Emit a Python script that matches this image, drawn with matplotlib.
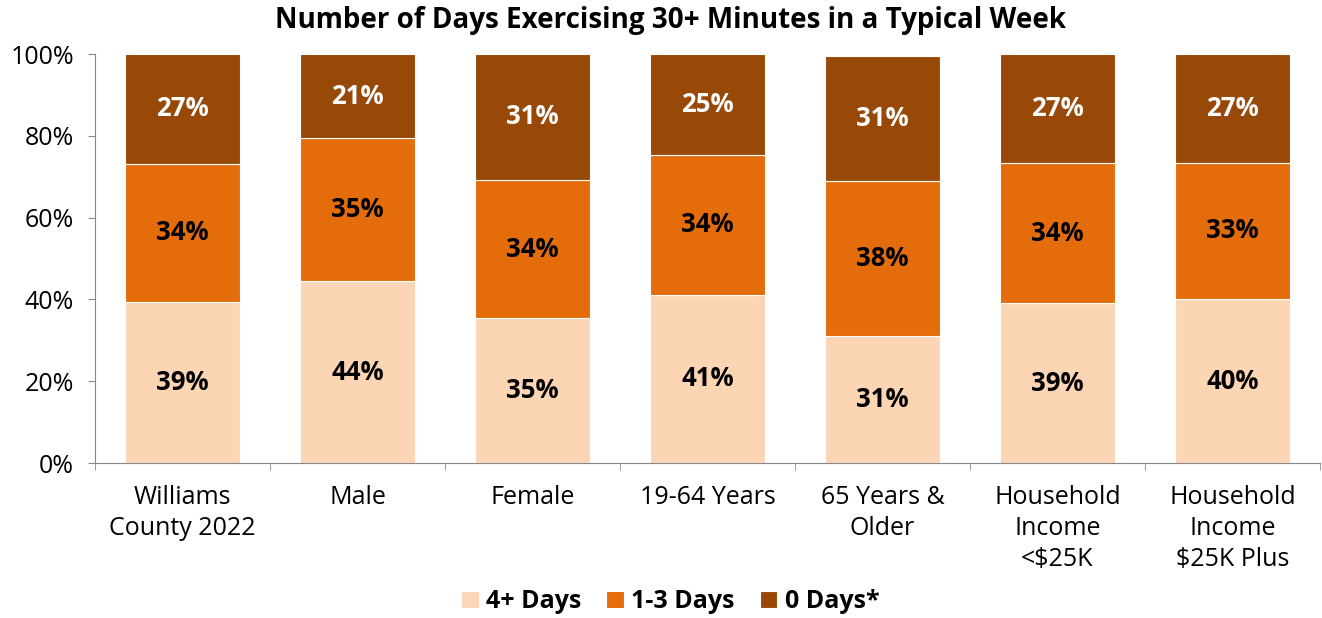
import matplotlib.pyplot as plt
import numpy as np

plt.rcParams['font.family'] = ['Open Sans', 'DejaVu Sans']

groups = ["Williams\nCounty 2022", "Male", "Female", "19-64 Years",
          "65 Years &\nOlder", "Household\nIncome\n<$25K", "Household\nIncome\n$25K Plus"]
days_4plus = [39.4, 44.4, 35.4, 41.2, 31.0, 39.1, 40.1]
days_1to3 = [33.8, 35.0, 33.8, 34.2, 37.9, 34.2, 33.3]
days_0 = [26.8, 20.6, 30.8, 24.6, 30.6, 26.7, 26.6]

series = [("4+ Days", days_4plus, "#FCD5B5", "black"),
          ("1-3 Days", days_1to3, "#E46C0A", "black"),
          ("0 Days*", days_0, "#984807", "white")]

fig = plt.figure(figsize=(13.22, 6.18), dpi=100)
ax = fig.add_axes([0.0719, 0.2508, 0.9265, 0.6618])

x = np.arange(len(groups))
bottom = np.zeros(len(groups))
for name, vals, color, txt in series:
    vals = np.array(vals)
    ax.bar(x, vals, 0.66, bottom=bottom, color=color, edgecolor="white",
           linewidth=0.8, label=name)
    for xi, b, v in zip(x, bottom, vals):
        ax.text(xi, b + v / 2, f"{v:.0f}%", ha="center", va="center",
                fontsize=18.5, fontweight="bold", color=txt)
    bottom += vals

ax.set_xlim(-0.5, len(groups) - 0.5)
ax.set_ylim(0, 100)
ax.set_yticks(range(0, 101, 20))
ax.set_yticklabels([f"{v}%" for v in range(0, 101, 20)], fontsize=18)
ax.set_xticks(x)
ax.set_xticklabels(groups, fontsize=18, linespacing=1.32)
ax.set_xticks(np.arange(-0.5, len(groups)), minor=True)
ax.tick_params(axis="x", which="major", length=0, pad=16)
ax.tick_params(axis="x", which="minor", length=5, color="#888888")
ax.tick_params(axis="y", length=5, color="#888888", pad=10)

for side in ["top", "right"]:
    ax.spines[side].set_visible(False)
ax.spines["left"].set_color("#888888")
ax.spines["bottom"].set_color("#888888")

fig.suptitle("Number of Days Exercising 30+ Minutes in a Typical Week",
             x=0.507, y=0.99, fontsize=20, fontweight="bold")
fig.legend(loc="lower center", bbox_to_anchor=(0.507, -0.03), ncol=3, frameon=False,
           prop={"size": 18, "weight": "bold"}, handlelength=0.7, handleheight=0.7,
           handletextpad=0.3, columnspacing=1.0)

fig.savefig("out.png", dpi=100)
